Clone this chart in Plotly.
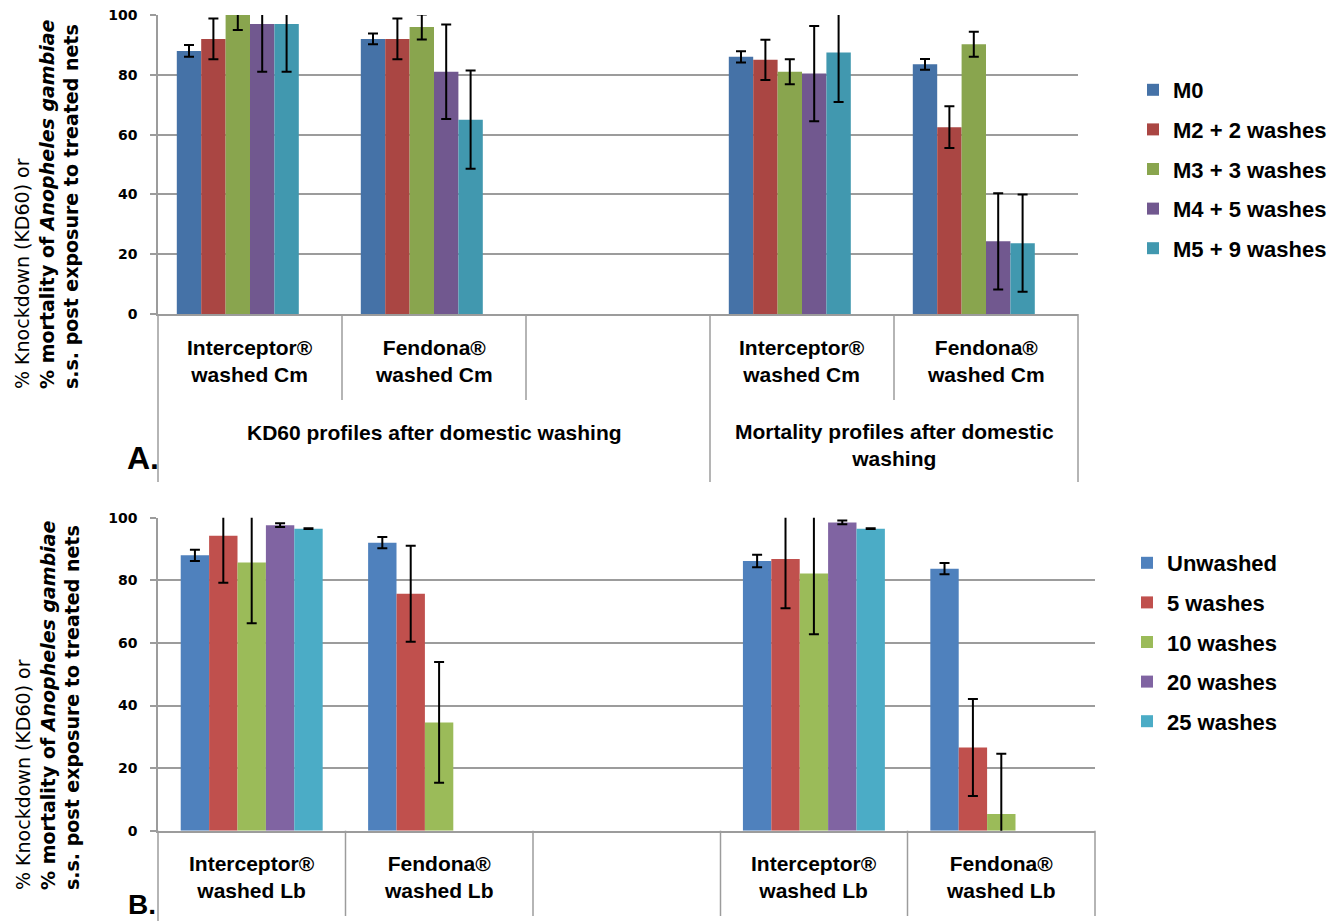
import plotly.graph_objects as go

OFF = 8  # page body margin
W, H = 1337 - OFF, 921 - OFF

# ---------------- data ----------------
categories_a = ["KD Interceptor Cm", "KD Fendona Cm", "gap A", "Mort Interceptor Cm", "Mort Fendona Cm"]
labels_a = ["Interceptor®<br>washed Cm", "Fendona®<br>washed Cm", "", "Interceptor®<br>washed Cm", "Fendona®<br>washed Cm"]
groups_a = ["KD60 profiles after domestic washing", "Mortality profiles after domestic<br>washing"]
series_a = ["M0", "M2 + 2 washes", "M3 + 3 washes", "M4 + 5 washes", "M5 + 9 washes"]
m0_vals = [88, 92, None, 86, 83.5]
m0_err = [2, 1.8, None, 1.9, 1.8]
m2_vals = [92, 92, None, 85, 62.5]
m2_err = [6.8, 6.8, None, 6.7, 7]
m3_vals = [100, 96, None, 81, 90.2]
m3_err = [5, 4.2, None, 4.2, 4.2]
m4_vals = [97, 81, None, 80.4, 24.3]
m4_err = [16, 15.8, None, 15.9, 16.1]
m5_vals = [97, 65, None, 87.5, 23.7]
m5_err = [16, 16.4, None, 16.6, 16.3]

categories_b = ["KD Interceptor Lb", "KD Fendona Lb", "gap B", "Mort Interceptor Lb", "Mort Fendona Lb"]
labels_b = ["Interceptor®<br>washed Lb", "Fendona®<br>washed Lb", "", "Interceptor®<br>washed Lb", "Fendona®<br>washed Lb"]
series_b = ["Unwashed", "5 washes", "10 washes", "20 washes", "25 washes"]
unw_vals = [88, 92, None, 86.2, 83.7]
unw_err = [1.8, 1.8, None, 2, 1.8]
w5_vals = [94.2, 75.7, None, 86.8, 26.6]
w5_err = [15, 15.3, None, 15.7, 15.5]
w10_vals = [85.7, 34.6, None, 82.2, 5.3]
w10_err = [19.4, 19.3, None, 19.4, 19.3]
w20_vals = [97.6, None, None, 98.5, None]
w20_err = [0.6, None, None, 0.6, None]
w25_vals = [96.5, None, None, 96.5, None]
w25_err = [0.15, None, None, 0.15, None]

y_ticks = [0, 20, 40, 60, 80, 100]

colors_a = ["#4572A7", "#AA4643", "#89A54E", "#71588F", "#4198AF"]
colors_b = ["#4F81BD", "#C0504D", "#9BBB59", "#8064A2", "#4BACC6"]

# ---------------- helpers (target screen pixels -> paper) ----------------
def px(x):
    return (x - OFF) / W

def py(y):
    return 1 - (y - OFF) / H

GRID = "#9C9C9C"
BOLD = "Liberation Sans, Arial"

fig = go.Figure()

vals_a = [m0_vals, m2_vals, m3_vals, m4_vals, m5_vals]
errs_a = [m0_err, m2_err, m3_err, m4_err, m5_err]
wa = 0.1326
for i, (name, v, e) in enumerate(zip(series_a, vals_a, errs_a)):
    fig.add_trace(go.Bar(
        x=categories_a, y=v, name=name, xaxis="x", yaxis="y", legend="legend",
        legendgroup=f"a{i}", width=wa, offset=-3 * wa + i * wa,
        marker=dict(color=colors_a[i], line=dict(width=0)),
        error_y=dict(type="data", array=e, visible=True, color="black", thickness=2, width=5),
    ))

vals_b = [unw_vals, w5_vals, w10_vals, w20_vals, w25_vals]
errs_b = [unw_err, w5_err, w10_err, w20_err, w25_err]
wb = 0.1515
for i, (name, v, e) in enumerate(zip(series_b, vals_b, errs_b)):
    fig.add_trace(go.Bar(
        x=categories_b, y=v, name=name, xaxis="x2", yaxis="y2", legend="legend2",
        legendgroup=f"b{i}", width=wb, offset=-2.5 * wb + i * wb,
        marker=dict(color=colors_b[i], line=dict(width=0)),
        error_y=dict(type="data", array=e, visible=True, color="black", thickness=2, width=5),
    ))

yax = dict(range=[0, 100], tickvals=y_ticks, showgrid=True, gridcolor=GRID, gridwidth=1.5,
           zeroline=False, showline=True, linecolor=GRID, linewidth=1.5,
           ticks="outside", ticklen=6, tickcolor=GRID, tickwidth=1.5,
           ticklabelstandoff=10, ticklabeloverflow="allow",
           tickfont=dict(family="DejaVu Sans", size=14, color="black", weight="bold"))
xax = dict(type="category", range=[-0.5, 4.5], showticklabels=False, ticks="",
           showline=True, linecolor=GRID, linewidth=1.5, showgrid=False, zeroline=False)

leg_font = dict(family=BOLD, size=22, color="black", weight="bold")
fig.update_layout(
    width=W, height=H, margin=dict(l=0, r=0, t=0, b=0, autoexpand=False),
    paper_bgcolor="white", plot_bgcolor="white", barmode="overlay",
    xaxis=dict(xax, domain=[px(158), px(1078)], anchor="y",
               categoryorder="array", categoryarray=categories_a),
    yaxis=dict(yax, domain=[py(314), py(15)], anchor="x"),
    xaxis2=dict(xax, domain=[px(158), px(1095)], anchor="y2",
                categoryorder="array", categoryarray=categories_b),
    yaxis2=dict(yax, domain=[py(830.7), py(517.7)], anchor="x2"),
    legend=dict(x=px(1133), xanchor="left", y=py(69), yanchor="top", font=leg_font,
                tracegroupgap=8, bgcolor="rgba(0,0,0,0)", traceorder="grouped"),
    legend2=dict(x=px(1127), xanchor="left", y=py(542), yanchor="top", font=leg_font,
                 tracegroupgap=8, bgcolor="rgba(0,0,0,0)", traceorder="grouped"),
    showlegend=True,
)

shapes = []
def vline(x, y0, y1):
    shapes.append(dict(type="line", xref="paper", yref="paper", x0=px(x), x1=px(x),
                       y0=py(y0), y1=py(y1), line=dict(color=GRID, width=1.5)))

# panel A separators
vline(158, 314, 482)
for xx in [342, 526, 894]:
    vline(xx, 314, 400)
vline(710, 314, 482)
vline(1078, 314, 482)
# panel B separators
vline(158, 830.7, 921)
for xx in [345.5, 533, 720.5, 907.5, 1095]:
    vline(xx, 830.7, 916)
fig.update_layout(shapes=shapes)

ann = []
cat_font = dict(family=BOLD, size=21, color="black", weight="bold")
for c, lab in zip(categories_a, labels_a):
    if lab:
        ann.append(dict(x=c, xref="x", y=py(361), yref="paper", text=lab, showarrow=False,
                        font=cat_font, xanchor="center", yanchor="middle", align="center"))
for c, lab in zip(categories_b, labels_b):
    if lab:
        ann.append(dict(x=c, xref="x2", y=py(877), yref="paper", text=lab, showarrow=False,
                        font=cat_font, xanchor="center", yanchor="middle", align="center"))
ann.append(dict(x=px(434), xref="paper", y=py(432), yref="paper", text=groups_a[0], showarrow=False,
                font=cat_font, xanchor="center", yanchor="middle"))
ann.append(dict(x=px(894), xref="paper", y=py(445), yref="paper", text=groups_a[1], showarrow=False,
                font=cat_font, xanchor="center", yanchor="middle", align="center"))

ytitle = ("% Knockdown (KD60) or<br><b>% mortality of <i>Anopheles gambiae</i></b><br>"
          "<b>s.s. post exposure to treated nets</b>")
for yc in [204, 705]:
    ann.append(dict(x=px(47), xref="paper", y=py(yc), yref="paper", text=ytitle, showarrow=False,
                    textangle=-90, align="left", xanchor="center", yanchor="middle",
                    font=dict(family="DejaVu Sans", size=19, color="black")))
ann.append(dict(x=px(143), xref="paper", y=py(458), yref="paper", text="<b>A.</b>", showarrow=False,
                font=dict(family=BOLD, size=32, color="black"), xanchor="center", yanchor="middle"))
ann.append(dict(x=px(142), xref="paper", y=py(904), yref="paper", text="<b>B.</b>", showarrow=False,
                font=dict(family=BOLD, size=28, color="black"), xanchor="center", yanchor="middle"))
fig.update_layout(annotations=ann)

fig.write_html("out.html")
